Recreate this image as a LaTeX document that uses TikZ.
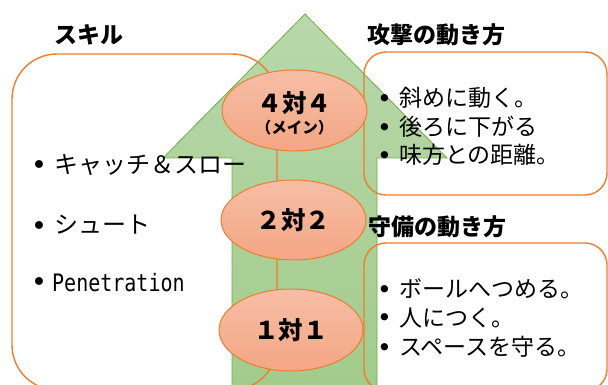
\documentclass[tikz,border=0pt]{standalone}
\usepackage{fontspec}
\usetikzlibrary{shapes.geometric}
\newfontfamily\jp{Noto Sans CJK JP}
\newfontfamily\dv{DejaVu Sans}
\newfontfamily\dvm{DejaVu Sans Mono}
\definecolor{oline}{HTML}{ED7D31}
\definecolor{gline}{HTML}{70AD47}
\definecolor{gtop}{HTML}{B8D8AB}
\definecolor{gbot}{HTML}{A2CB8B}
\definecolor{etop}{HTML}{F6BEA6}
\definecolor{ebot}{HTML}{F4A684}
\newcommand{\bulA}{\makebox[22pt][l]{\hspace*{-1pt}\raisebox{-1.5pt}{\fontsize{27}{27}\selectfont\dv •}}}
\newcommand{\bulC}{\makebox[20pt][l]{\hspace*{-1pt}\raisebox{-1.5pt}{\fontsize{27}{27}\selectfont\dv •}}}
\newcommand{\bulB}{\makebox[21pt][l]{\hspace*{-1pt}\raisebox{-0.5pt}{\fontsize{25}{25}\selectfont\dv •}}}
\tikzset{
  obox/.style={draw=oline, line width=1.4pt},
  ell/.style={ellipse, draw=oline, line width=1pt, top color=etop, bottom color=ebot, inner sep=0pt},
  ttl/.style={font=\jp\bfseries\fontsize{23}{26}\selectfont, inner sep=0pt},
  etxt/.style={font=\jp\bfseries\fontsize{24.5}{26}\selectfont, inner sep=0pt},
  esub/.style={font=\jp\bfseries\fontsize{15.5}{17}\selectfont, inner sep=0pt},
  litem/.style={font=\jp\fontsize{24}{27}\selectfont, anchor=west, inner sep=0pt},
  ritem/.style={font=\jp\fontsize{23}{26}\selectfont, anchor=west, inner sep=0pt},
}
\begin{document}
\begin{tikzpicture}[x=1pt,y=-1pt]
\useasboundingbox (0,0) rectangle (608,385);
\clip (0,0) rectangle (608,385);
% big arrow
\path[draw=gline, line width=0.8pt, top color=gtop, bottom color=gbot]
  (305,14) -- (447,158) -- (377,158) -- (377,392) -- (232,392) -- (232,158) -- (163,158) -- cycle;
% boxes
\draw[obox, rounded corners=45pt] (12,54) rectangle (277,390);
\draw[obox, rounded corners=22pt] (364,52) rectangle (607,195);
\draw[obox, rounded corners=22pt] (364,243) rectangle (607,391);
% ellipses
\node[ell, minimum width=145pt, minimum height=81pt] (e4) at (294.5,110.5) {};
\node[ell, minimum width=145pt, minimum height=80pt] (e2) at (293.5,220) {};
\node[ell, minimum width=144pt, minimum height=82pt] (e1) at (291,330) {};
\node[etxt] (t4) at (294.5,103) {４対４};
\node[esub] (t4s) at (294.5,128) {（メイン）};
\node[etxt] (t2) at (293.5,220) {２対２};
\node[etxt] (t1) at (291,330) {１対１};
% titles
\node[ttl] (skill) at (88.5,35) {スキル};
\node[ttl] (atk) at (436,35) {攻撃の動き方};
\node[ttl] (dfn) at (437,227) {守備の動き方};
% left items
\node[litem] (l1) at (32,165) {\bulA キャッチ＆スロー};
\node[litem] (l2) at (32,225) {\bulA シュート};
\node[anchor=west, inner sep=0pt] (l3) at (32,283) {\jp\fontsize{24}{27}\selectfont\bulC\raisebox{-1.5pt}{\scalebox{1}[1.2]{\dvm\fontsize{20}{24}\selectfont Penetration}}};
% attack items
\node[ritem] (a1) at (378,98) {\bulB 斜めに動く。};
\node[ritem] (a2) at (378,127) {\bulB 後ろに下がる};
\node[ritem] (a3) at (378,155) {\bulB 味方との距離。};
% defense items
\node[ritem] (d1) at (378,289) {\bulB ボールへつめる。};
\node[ritem] (d2) at (378,318) {\bulB 人につく。};
\node[ritem] (d3) at (378,347) {\bulB スペースを守る。};
\end{tikzpicture}
\end{document}
